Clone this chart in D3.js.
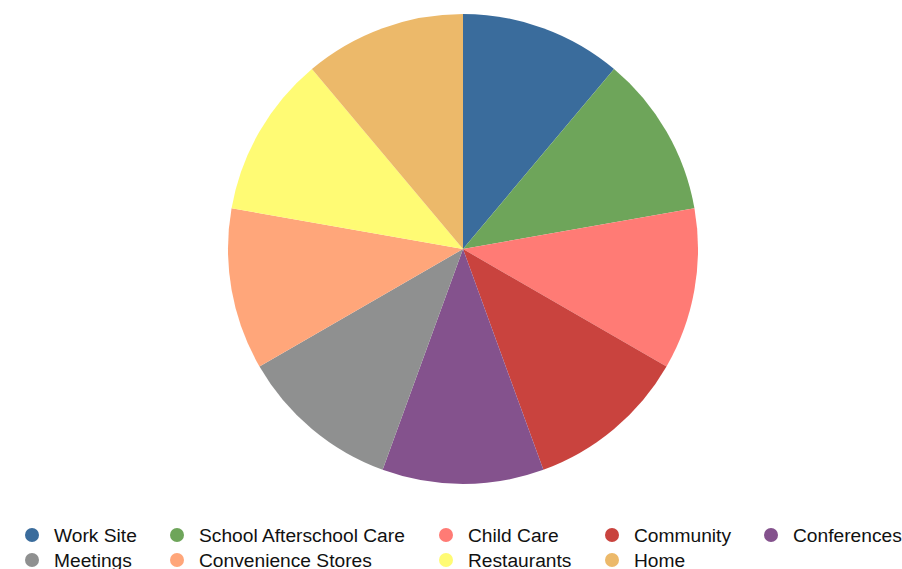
<!DOCTYPE html>
<html lang="en">
<head>
<meta charset="UTF-8">
<script src="https://d3js.org/d3.v7.min.js"></script>
<style>
  body { margin: 0; background: #fff; }
  svg { display: block; }
</style>
</head>
<body>
<script>
// slice categories, clockwise from 12 o'clock
const categories = ['Work Site', 'School Afterschool Care', 'Child Care', 'Community', 'Conferences',
                    'Meetings', 'Convenience Stores', 'Restaurants', 'Home'];
const values = [1, 1, 1, 1, 1, 1, 1, 1, 1];
const colors = ['#3a6c9c', '#6ea55a', '#ff7b75', '#c9433e', '#84528d',
                '#8f9090', '#ffa67a', '#fffb74', '#ecb96a'];

const W = 902, H = 569;
const svg = d3.select('body').append('svg')
    .attr('width', W)
    .attr('height', H);

const color = d3.scaleOrdinal().domain(categories).range(colors);

const pie = d3.pie().sort(null).value((d, i) => values[i]);
const arc = d3.arc().innerRadius(0).outerRadius(235);

const g = svg.append('g').attr('transform', 'translate(463, 249)');

g.selectAll('path')
    .data(pie(categories))
    .enter()
    .append('path')
    .attr('d', arc)
    .attr('fill', d => color(d.data));

// legend, 5 per row
const colX = [32, 177, 446, 612, 771];
const legend = svg.append('g')
    .selectAll('g')
    .data(categories)
    .enter()
    .append('g')
    .attr('transform', (d, i) => `translate(${colX[i % 5]}, ${535 + Math.floor(i / 5) * 25})`);

legend.append('circle')
    .attr('r', 7)
    .attr('fill', d => color(d));

legend.append('text')
    .attr('x', 22)
    .attr('dy', '0.35em')
    .attr('font-family', 'Liberation Sans, Arial, sans-serif')
    .attr('font-size', '19.2px')
    .attr('fill', '#111')
    .text(d => d);
</script>
</body>
</html>
